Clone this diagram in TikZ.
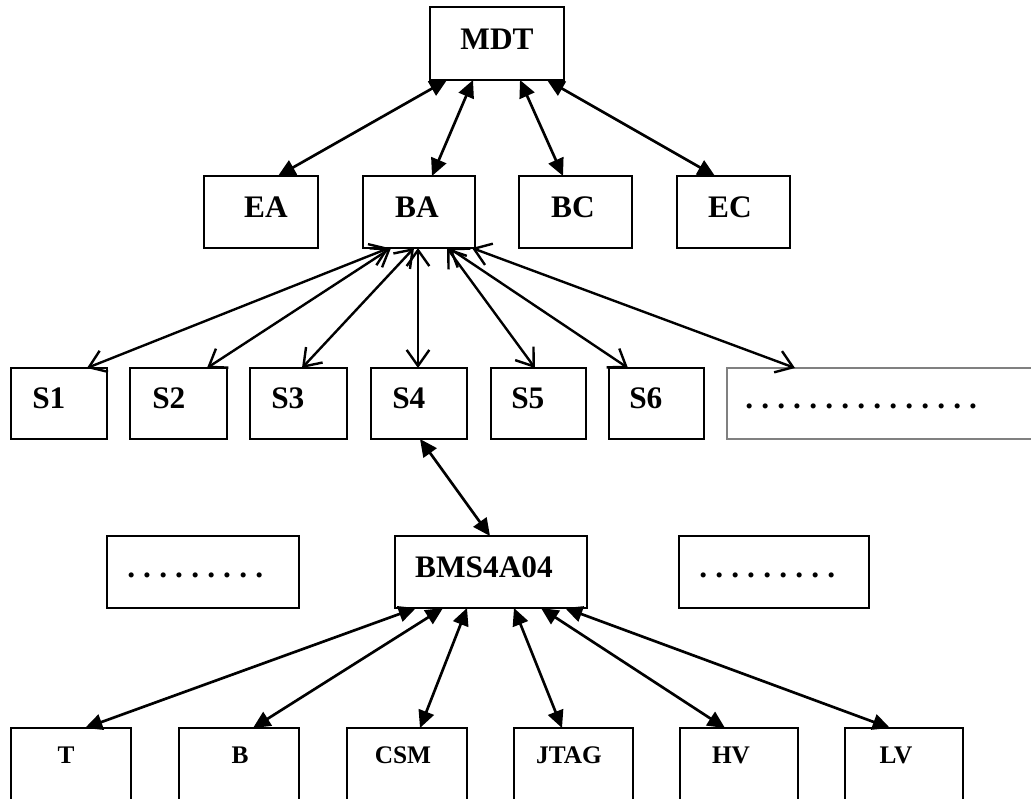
\documentclass[tikz,border=0pt]{standalone}
\usepackage{fontspec}
\setmainfont{Liberation Serif}
\usetikzlibrary{arrows.meta,calc}
\newcommand\mkbox[6][]{\node[box,#1,minimum width={(#5-#3)*0.75pt},minimum height={(#6-#4)*0.75pt}] (#2) at ({(#3+#5)/2},{(#4+#6)/2}) {};}
\newcommand\dotrow[1]{\foreach \i in {1,...,#1}{\makebox[12pt][l]{.}}}
\tikzset{
  box/.style={draw, line width=2pt, inner sep=0pt, outer sep=0pt, rectangle},
  graybox/.style={draw=gray, line width=1.2pt},
  big/.style={font=\fontsize{23.5}{27}\selectfont\bfseries, inner sep=0pt},
  small/.style={font=\fontsize{19}{23}\selectfont\bfseries, inner sep=0pt},
  fl/.style={line width=2pt, {Triangle[length=13pt,width=12pt]}-{Triangle[length=13pt,width=12pt]}},
  op/.style={line width=1.8pt, {Straight Barb[length=12pt,width=17pt]}-{Straight Barb[length=12pt,width=17pt]}}
}
\begin{document}
\begin{tikzpicture}[x=0.75pt,y=-0.75pt]
\useasboundingbox (0,0) rectangle (1031,799);
\clip (0,0) rectangle (1031,799);
% boxes
\mkbox{mdt}{430}{7}{564}{80}
\mkbox{ea}{204}{176}{318}{248}
\mkbox{ba}{363}{176}{475}{248}
\mkbox{bc}{519}{176}{632}{248}
\mkbox{ec}{677}{176}{790}{248}
\mkbox{s1}{11}{368}{107}{439}
\mkbox{s2}{130}{368}{227}{439}
\mkbox{s3}{250}{368}{347}{439}
\mkbox{s4}{371}{368}{467}{439}
\mkbox{s5}{491}{368}{586}{439}
\mkbox{s6}{609}{368}{704}{439}
\mkbox[graybox]{sd}{727}{368}{1045}{439}
\mkbox{bl}{107}{536}{299}{608}
\mkbox{bms}{395}{536}{587}{608}
\mkbox{br}{679}{536}{869}{608}
\mkbox{t}{11}{728}{131}{800}
\mkbox{b}{179}{728}{299}{800}
\mkbox{csm}{347}{728}{467}{800}
\mkbox{jtag}{514}{728}{633}{800}
\mkbox{hv}{680}{728}{798}{800}
\mkbox{lv}{845}{728}{963}{800}
% labels
\node[big,anchor=base] (mdtl) at (497,50) {MDT};
\node[big,anchor=base] (eal) at (266,217) {EA};
\node[big,anchor=base] (bal) at (417,217) {BA};
\node[big,anchor=base] (bcl) at (573,217) {BC};
\node[big,anchor=base] (ecl) at (730,217) {EC};
\node[big,anchor=base west] (s1l) at (32,408) {S1};
\node[big,anchor=base west] (s2l) at (152,408) {S2};
\node[big,anchor=base west] (s3l) at (271,408) {S3};
\node[big,anchor=base west] (s4l) at (392,408) {S4};
\node[big,anchor=base west] (s5l) at (511,408) {S5};
\node[big,anchor=base west] (s6l) at (629,408) {S6};
\node[big,anchor=base west] (sdl) at (745,408) {\dotrow{15}};
\node[big,anchor=base west] (bll) at (127,577) {\dotrow{9}};
\node[big,anchor=base] (bmsl) at (484,577) {BMS4A04};
\node[big,anchor=base west] (brl) at (699,577) {\dotrow{9}};
\node[small,anchor=base] (tl) at (66,763) {T};
\node[small,anchor=base] (bl2) at (240,763) {B};
\node[small,anchor=base] (csml) at (403,763) {CSM};
\node[small,anchor=base] (jtagl) at (569,763) {JTAG};
\node[small,anchor=base] (hvl) at (731,763) {HV};
\node[small,anchor=base] (lvl) at (896,763) {LV};
% MDT connectors
\draw[fl] ($(mdt.south west)+(17,0)$) -- ($(ea.north west)+(74,0)$);
\draw[fl] ($(mdt.south west)+(43,0)$) -- ($(ba.north west)+(69,0)$);
\draw[fl] ($(mdt.south west)+(90,0)$) -- ($(bc.north west)+(44,0)$);
\draw[fl] ($(mdt.south west)+(117,0)$) -- ($(ec.north west)+(38,0)$);
% BA connectors
\draw[op] ($(ba.south west)+(26,0)$) -- ($(s1.north west)+(76,0)$);
\draw[op] ($(ba.south west)+(28,0)$) -- ($(s2.north west)+(77,0)$);
\draw[op] ($(ba.south west)+(51,0)$) -- ($(s3.north west)+(52,0)$);
\draw[op] ($(ba.south west)+(55,0)$) -- ($(s4.north west)+(47,0)$);
\draw[op] ($(ba.south west)+(84,0)$) -- ($(s5.north west)+(44,0)$);
\draw[op] ($(ba.south west)+(86,0)$) -- ($(s6.north west)+(19,0)$);
\draw[op] ($(ba.south west)+(109,0)$) -- ($(sd.north west)+(68,0)$);
% S4 to BMS
\draw[fl] ($(s4.south west)+(49,0)$) -- ($(bms.north west)+(95,0)$);
% BMS connectors
\draw[fl] ($(bms.south west)+(21,0)$) -- ($(t.north west)+(74,0)$);
\draw[fl] ($(bms.south west)+(48,0)$) -- ($(b.north west)+(74,0)$);
\draw[fl] ($(bms.south west)+(72,0)$) -- ($(csm.north west)+(73,0)$);
\draw[fl] ($(bms.south west)+(119,0)$) -- ($(jtag.north west)+(48,0)$);
\draw[fl] ($(bms.south west)+(146,0)$) -- ($(hv.north west)+(45,0)$);
\draw[fl] ($(bms.south west)+(170,0)$) -- ($(lv.north west)+(45,0)$);
\end{tikzpicture}
\end{document}
